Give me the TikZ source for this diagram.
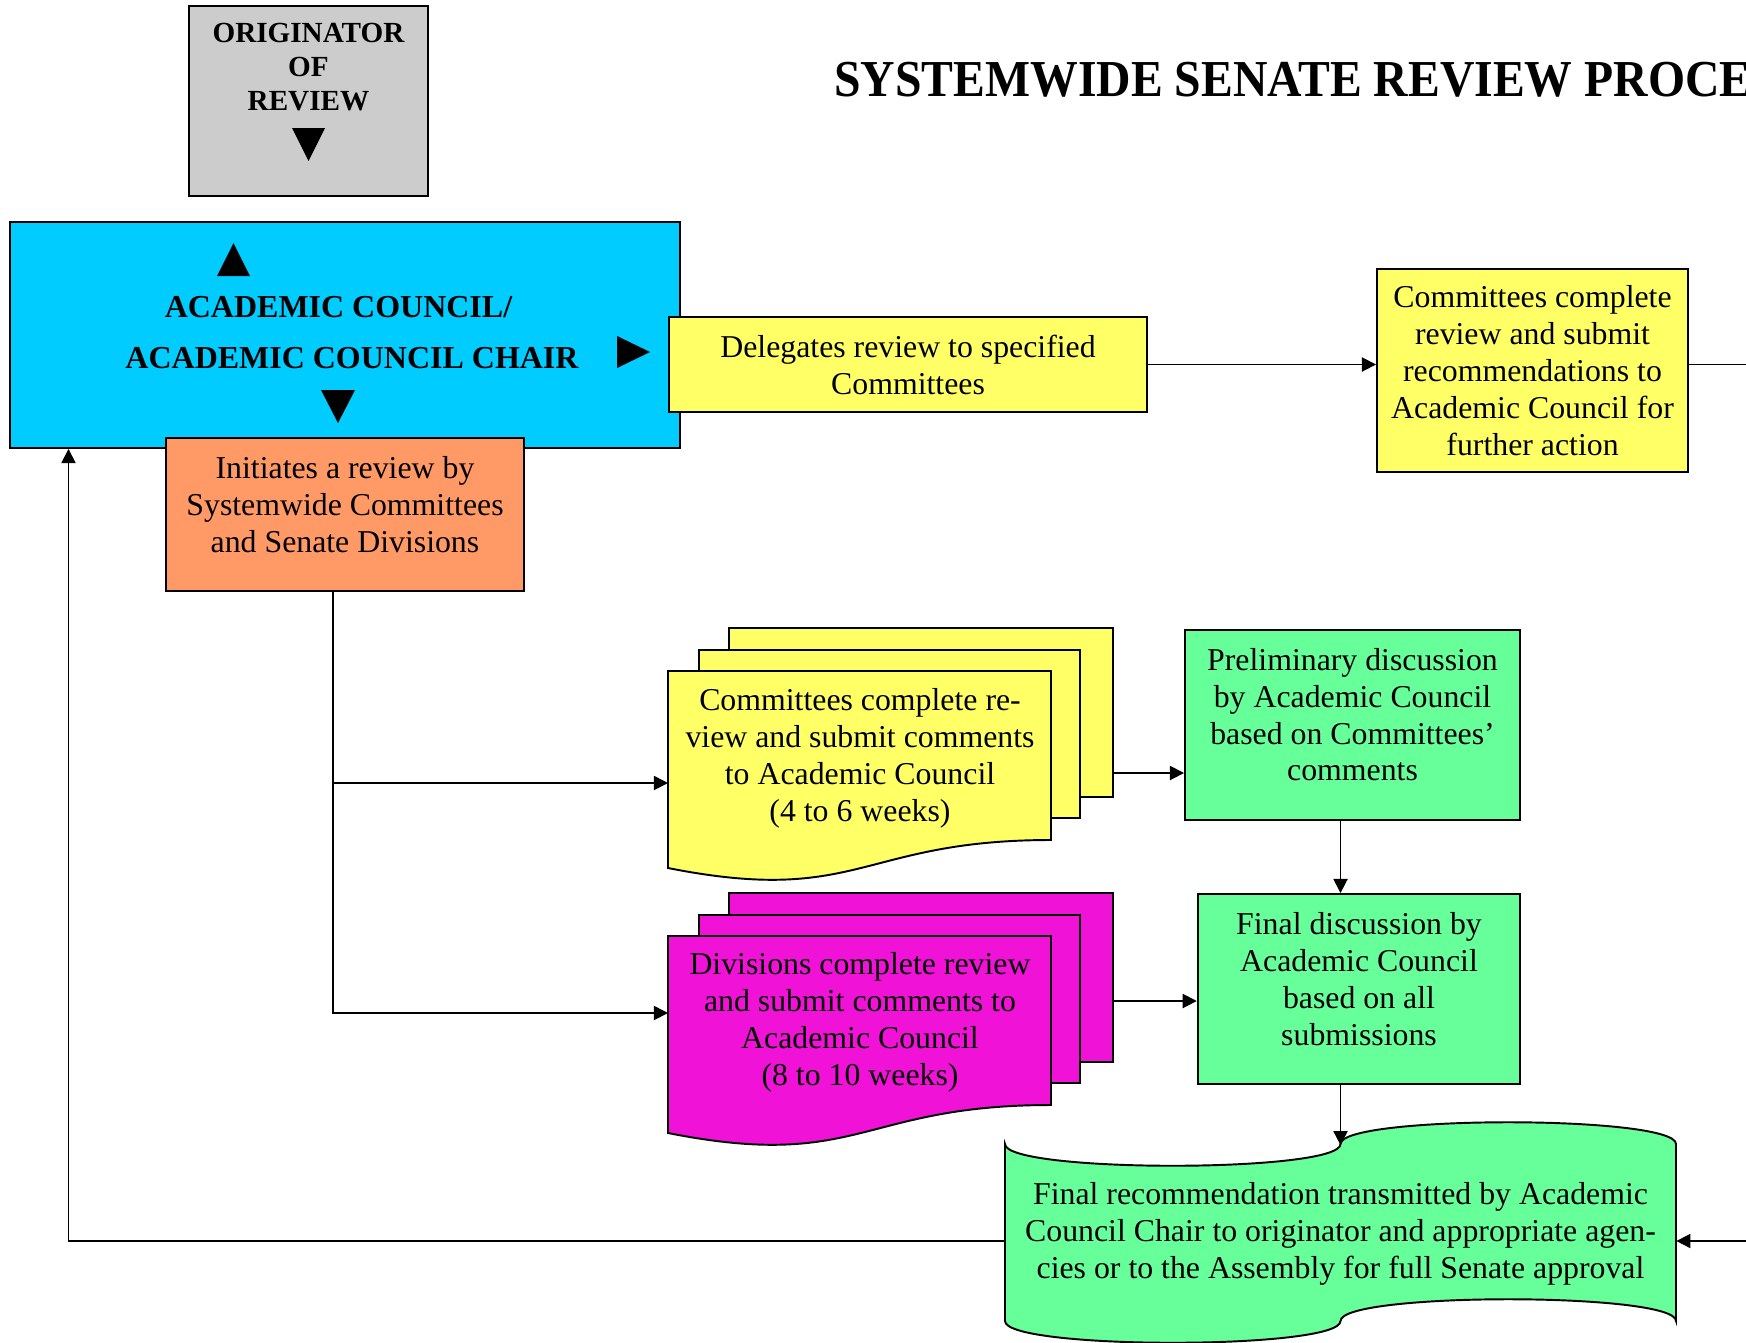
\documentclass[tikz,border=0pt]{standalone}
\usepackage{fontspec}
\setmainfont{Liberation Serif}
\newfontfamily\titlefont[FakeStretch=0.92]{Liberation Serif}
\usepackage{tikz}
\usetikzlibrary{arrows.meta}
\tikzset{>={Triangle[length=8pt, width=8pt]}}
\definecolor{origgray}{HTML}{CCCCCC}
\definecolor{councilblue}{HTML}{00CCFF}
\definecolor{initorange}{HTML}{FF9966}
\definecolor{docyellow}{HTML}{FFFF66}
\definecolor{docpink}{HTML}{F012D7}
\definecolor{discgreen}{HTML}{66FF99}
\newcommand\lowpad{\rule[-11.4pt]{0pt}{0pt}}
\tikzset{
    txt/.style={font=\fontsize{18.1}{21}\selectfont},
    panel/.style={draw, line width=1.1pt, align=center, inner sep=0pt, txt},
    sheet/.style={draw, line width=1.1pt},
    conn/.style={line width=1pt},
}

\begin{document}
\begin{tikzpicture}[x=0.2mm, y=-0.2mm]
    \path[use as bounding box, clip](0, 0)rectangle(1746, 1342);
    \node[anchor=base west, font=\titlefont\bfseries\fontsize{29.5}{34}\selectfont](ttl)at(828, 96){SYSTEMWIDE SENATE REVIEW PROCESS};

    \node[panel, fill=origgray, minimum width=47.8mm, minimum height=38mm](org)at(308.5, 101){};
    \node[align=center, font=\fontsize{16.6}{19.3}\selectfont\bfseries](orgt)at(308.5, 67){ORIGINATOR\\OF\\REVIEW};
    \fill(292, 128)--(325, 128)--(308.5, 161)--cycle;

    \node[panel, fill=councilblue, minimum width=134mm, minimum height=45.2mm, font=\fontsize{18.2}{29}\selectfont\bfseries](acc)at(345, 335){ACADEMIC COUNCIL/\hspace*{7.4pt}\\\hspace*{8pt}ACADEMIC COUNCIL CHAIR\rule[-3pt]{0pt}{0pt}};
    \fill(217, 276)--(250, 276)--(233.5, 243)--cycle;
    \fill(321, 390)--(355, 390)--(338, 423)--cycle;
    \fill(617, 336)--(617, 368)--(650, 352)--cycle;

    \node[panel, fill=initorange, minimum width=71.6mm, minimum height=30.6mm](org2)at(345, 514.5){Initiates a review by\\Systemwide Committees\\and Senate Divisions\lowpad};
    \node[panel, fill=docyellow, minimum width=95.6mm, minimum height=19mm](dlg)at(908, 364.5){Delegates review to specified\\Committees};
    \node[panel, fill=docyellow, minimum width=62.2mm, minimum height=40.6mm](cmt)at(1532.5, 370.5){Committees complete\\review and submit\\recommendations to\\Academic Council for\\further action};

    \foreach \dy/\col in {0/docyellow, 265/docpink}{
        \begin{scope}[shift={(0, \dy)}]
            \draw[sheet, fill=\col](729, 628)rectangle(1113, 797);
            \draw[sheet, fill=\col](699, 650)rectangle(1080, 818);
            \draw[sheet, fill=\col](668, 671)--(1051, 671)--(1051, 840) .. controls (860, 840) and (860, 906) .. (668, 868)--cycle;
        \end{scope}
    }
    \node[txt, align=center](com)at(860, 758){Committees complete re-\\view and submit comments\\to Academic Council\\(4 to 6 weeks)};
    \node[txt, align=center](div)at(860, 1022){Divisions complete review\\and submit comments to\\Academic Council\\(8 to 10 weeks)};
    \coordinate(comin)at(668, 783);
    \coordinate(comout)at(1113, 773);
    \coordinate(divin)at(668, 1013);
    \coordinate(divout)at(1113, 1001);

    \node[panel, fill=discgreen, minimum width=67mm, minimum height=38mm](prl)at(1352.5, 724.6){Preliminary discussion\\by Academic Council\\based on Committees'\\comments\lowpad};
    \node[panel, fill=discgreen, minimum width=64.5mm, minimum height=38mm](dsc)at(1359, 989){Final discussion by\\Academic Council\\based on all\\submissions\lowpad};

    \draw[sheet, fill=discgreen](1005, 1144) .. controls (1005, 1173) and (1340.5, 1173) .. (1340.5, 1144)
        .. controls (1340.5, 1115) and (1676, 1115) .. (1676, 1144)--(1676, 1321)
        .. controls (1676, 1292) and (1340.5, 1292) .. (1340.5, 1321)
        .. controls (1340.5, 1350) and (1005, 1350) .. (1005, 1321)--cycle;
    \node[txt, align=center, inner sep=0pt, minimum width=134.2mm, minimum height=35.4mm](tap)at(1340.5, 1234){Final recommendation transmitted by Academic\\Council Chair to originator and appropriate agen-\\cies or to the Assembly for full Senate approval};

    \coordinate(spine)at(333, 0);
    \coordinate(ret)at(68.5, 1241);
    \coordinate(edgeA)at(1760, 364.5);
    \coordinate(edgeB)at(1760, 1241);
    \draw[conn, ->](dlg)--(cmt.west |- dlg);
    \draw[conn](cmt.east |- dlg)--(edgeA);
    \draw[conn, ->](org2.south -| spine)|-(divin);
    \draw[conn, ->](spine |- comin)--(comin);
    \draw[conn, ->](comout)--(comout -| prl.west);
    \draw[conn, ->](divout)--(divout -| dsc.west);
    \draw[conn, ->](prl.south -| tap.north)--(dsc.north -| tap.north);
    \draw[conn, ->](dsc.south -| tap.north)--(tap.north);
    \draw[conn, ->](tap.west |- ret)-|(acc.south -| ret);
    \draw[conn, ->](edgeB)--(tap.east |- edgeB);
\end{tikzpicture}
\end{document}
